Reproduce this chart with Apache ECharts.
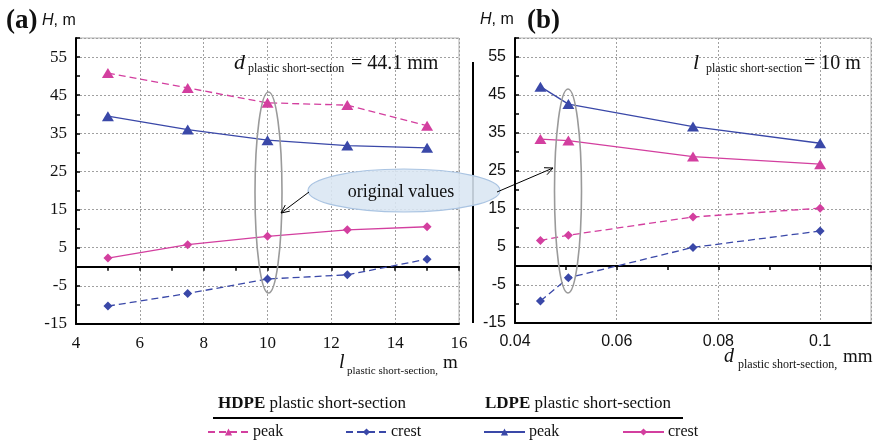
<!DOCTYPE html>
<html>
<head>
<meta charset="utf-8">
<script src="https://cdn.jsdelivr.net/npm/echarts@6/dist/echarts.min.js"></script>
<style>
  html, body { margin: 0; padding: 0; background: #fff; }
  #chart { width: 873px; height: 445px; }
</style>
</head>
<body>
<div id="chart"></div>
<script>
// (a) x: l plastic short-section, m
const lValues = [5, 7.5, 10, 12.5, 15];
const aHdpePeak = [50.8, 46.9, 43.0, 42.4, 37.0];
const aHdpeCrest = [-10.3, -7.0, -3.2, -2.1, 2.0];
const aLdpePeak = [39.5, 36.0, 33.2, 31.8, 31.2];
const aLdpeCrest = [2.3, 5.8, 8.0, 9.7, 10.5];

// (b) x: d plastic short-section
const dValues = [0.045, 0.0505, 0.075, 0.1];
const bBluePeak = [47.2, 42.6, 36.7, 32.3];
const bPinkPeak = [33.4, 33.0, 28.8, 26.8];
const bPinkCrest = [6.7, 8.1, 12.9, 15.2];
const bBlueCrest = [-9.2, -3.1, 4.9, 9.2];

const PINK = '#d33f9f';
const BLUE = '#3a48a8';
const SERIF = '"Liberation Serif", "Times New Roman", serif';
const SANS = '"Liberation Sans", Arial, sans-serif';

const chart = echarts.init(document.getElementById('chart'));

function pairs(xs, ys) {
  return xs.map((x, i) => [x, ys[i]]);
}

// line series helper
function mkSeries(name, xi, yi, xs, ys, color, dashed, symbol) {
  return {
    name: name,
    type: 'line',
    xAxisIndex: xi,
    yAxisIndex: yi,
    data: pairs(xs, ys),
    symbol: symbol,
    symbolSize: symbol === 'triangle' ? [12, 10] : 9,
    itemStyle: { color: color },
    lineStyle: { color: color, width: 1.3, type: dashed ? [7, 4] : 'solid' },
    animation: false,
    z: 5
  };
}

// value y axis with labels + grid lines
function yLabelAxis(gi, font, size) {
  return {
    type: 'value', gridIndex: gi, min: -15, max: 60, interval: 10,
    axisLine: { show: false }, axisTick: { show: false },
    axisLabel: { showMaxLabel: false, fontFamily: font, fontSize: size, color: '#111', margin: 9 },
    splitLine: { show: true, lineStyle: { color: '#a0a0a0', type: [2, 2], width: 1 } }
  };
}
// y axis with black line and ticks every 5
function yTickAxis(gi) {
  return {
    type: 'value', gridIndex: gi, min: -15, max: 60, interval: 5, position: 'left',
    axisLine: { show: true, onZero: false, lineStyle: { color: '#000', width: 2 } },
    axisTick: { show: true, inside: true, length: 4, lineStyle: { color: '#000', width: 1.5 } },
    axisLabel: { show: false },
    splitLine: { show: false }
  };
}

// open arrow: line + head
function arrow(x1, y1, x2, y2) {
  const dx = x2 - x1, dy = y2 - y1;
  const len = Math.sqrt(dx * dx + dy * dy);
  const bx = -dx / len, by = -dy / len;
  const a = 25 * Math.PI / 180, h = 9;
  const p1 = [x2 + h * (bx * Math.cos(a) - by * Math.sin(a)), y2 + h * (bx * Math.sin(a) + by * Math.cos(a))];
  const p2 = [x2 + h * (bx * Math.cos(a) + by * Math.sin(a)), y2 + h * (-bx * Math.sin(a) + by * Math.cos(a))];
  return [
    { type: 'line', shape: { x1: x1, y1: y1, x2: x2, y2: y2 }, style: { stroke: '#000', lineWidth: 1 }, z: 30 },
    { type: 'polyline', shape: { points: [p1, [x2, y2], p2] }, style: { stroke: '#000', lineWidth: 1, fill: null }, z: 30 }
  ];
}

function txt(x, y, text, font, size, opts) {
  return {
    type: 'text', x: x, y: y, z: 40,
    style: Object.assign({ text: text, fontFamily: font, fontSize: size, fill: '#111', textVerticalAlign: 'bottom' }, opts || {})
  };
}

function legendItem(name, left) {
  return {
    data: [name], left: left, top: 424, padding: 0,
    itemWidth: 41, itemHeight: 9, itemGap: 0,
    formatter: (n) => n.split(' ')[1],
    textStyle: { fontFamily: SERIF, fontSize: 16, color: '#111', padding: [0, 0, 0, -1] },
    selectedMode: false
  };
}

const option = {
  backgroundColor: '#fff',
  animation: false,
  grid: [
    { left: 76, right: 414, top: 38, bottom: 121, show: true, borderColor: '#b0b0b0', borderWidth: 1, backgroundColor: 'transparent' },
    { left: 515, right: 2, top: 38, bottom: 122, show: true, borderColor: '#b0b0b0', borderWidth: 1, backgroundColor: 'transparent' }
  ],
  xAxis: [
    // (a) bottom axis with labels
    { type: 'value', gridIndex: 0, min: 4, max: 16, interval: 2,
      axisLine: { onZero: false, lineStyle: { color: '#000', width: 2 } },
      axisTick: { show: false },
      axisLabel: { fontFamily: SERIF, fontSize: 17, color: '#111', margin: 11 },
      splitLine: { show: true, lineStyle: { color: '#a0a0a0', type: [2, 2], width: 1 } } },
    // (a) zero line with ticks
    { type: 'value', gridIndex: 0, min: 4, max: 16, interval: 1, position: 'bottom',
      axisLine: { onZero: true, onZeroAxisIndex: 0, lineStyle: { color: '#000', width: 2 } },
      axisTick: { show: true, length: 4, lineStyle: { color: '#000', width: 1.5 } },
      axisLabel: { show: false }, splitLine: { show: false } },
    // (b) bottom axis with labels
    { type: 'value', gridIndex: 1, min: 0.04, max: 0.11, interval: 0.02,
      axisLine: { onZero: false, lineStyle: { color: '#000', width: 2 } },
      axisTick: { show: false },
      axisLabel: { showMaxLabel: false, fontFamily: SANS, fontSize: 16, color: '#111', margin: 11,
        formatter: (v) => String(Math.round(v * 100) / 100) },
      splitLine: { show: true, lineStyle: { color: '#a0a0a0', type: [2, 2], width: 1 } } },
    // (b) zero line with ticks
    { type: 'value', gridIndex: 1, min: 0.04, max: 0.11, interval: 0.01, position: 'bottom',
      axisLine: { onZero: true, onZeroAxisIndex: 2, lineStyle: { color: '#000', width: 2 } },
      axisTick: { show: true, length: 4, lineStyle: { color: '#000', width: 1.5 } },
      axisLabel: { show: false }, splitLine: { show: false } }
  ],
  yAxis: [
    yLabelAxis(0, SERIF, 17),
    yTickAxis(0),
    yLabelAxis(1, SANS, 16),
    yTickAxis(1)
  ],
  legend: [
    legendItem('HDPE peak', 207),
    legendItem('HDPE crest', 345),
    legendItem('LDPE peak', 483),
    legendItem('LDPE crest', 622)
  ],
  series: [
    mkSeries('HDPE peak', 0, 0, lValues, aHdpePeak, PINK, true, 'triangle'),
    mkSeries('HDPE crest', 0, 0, lValues, aHdpeCrest, BLUE, true, 'diamond'),
    mkSeries('LDPE peak', 0, 0, lValues, aLdpePeak, BLUE, false, 'triangle'),
    mkSeries('LDPE crest', 0, 0, lValues, aLdpeCrest, PINK, false, 'diamond'),
    mkSeries('b blue peak', 2, 2, dValues, bBluePeak, BLUE, false, 'triangle'),
    mkSeries('b pink peak', 2, 2, dValues, bPinkPeak, PINK, false, 'triangle'),
    mkSeries('b pink crest', 2, 2, dValues, bPinkCrest, PINK, true, 'diamond'),
    mkSeries('b blue crest', 2, 2, dValues, bBlueCrest, BLUE, true, 'diamond')
  ],
  graphic: [
    // panel labels
    txt(6, 35, '(a)', SERIF, 27, { fontWeight: 'bold' }),
    txt(527, 35, '(b)', SERIF, 27, { fontWeight: 'bold' }),
    txt(42, 29, '{i|H}, m', SANS, 16, { rich: { i: { fontStyle: 'italic', fontFamily: SANS, fontSize: 16 } } }),
    txt(480, 28, '{i|H}, m', SANS, 16, { rich: { i: { fontStyle: 'italic', fontFamily: SANS, fontSize: 16 } } }),
    // (a) annotation
    txt(234, 74, 'd', SERIF, 22, { fontStyle: 'italic' }),
    txt(248, 75, 'plastic short-section', SERIF, 12),
    txt(351, 74, '= 44.1 mm', SERIF, 20),
    // (b) annotation
    txt(693, 74, 'l', SERIF, 22, { fontStyle: 'italic' }),
    txt(706, 75, 'plastic short-section', SERIF, 12),
    txt(804, 74, '= 10 m', SERIF, 20),
    // axis names
    txt(339, 373, 'l', SERIF, 20, { fontStyle: 'italic' }),
    txt(347, 377, 'plastic short-section,', SERIF, 11),
    txt(443, 373, 'm', SERIF, 19),
    txt(724, 367, 'd', SERIF, 20, { fontStyle: 'italic' }),
    txt(738, 371, 'plastic short-section,', SERIF, 12),
    txt(843, 367, 'mm', SERIF, 19),
    // extra vertical line left of (b)
    { type: 'line', shape: { x1: 473, y1: 62, x2: 473, y2: 323 }, style: { stroke: '#000', lineWidth: 2 }, z: 10 },
    // gray ellipses marking original values
    { type: 'ellipse', shape: { cx: 268.5, cy: 192.5, rx: 13.5, ry: 100.5 }, style: { stroke: '#9a9a9a', lineWidth: 1.6, fill: null }, z: 20 },
    { type: 'ellipse', shape: { cx: 568, cy: 191, rx: 13.5, ry: 102 }, style: { stroke: '#9a9a9a', lineWidth: 1.6, fill: null }, z: 20 },
    // callout
    { type: 'ellipse', shape: { cx: 404, cy: 190.5, rx: 96, ry: 21.5 }, style: { stroke: '#aac4e2', lineWidth: 1.2, fill: 'rgba(218,230,243,0.88)' }, z: 25 },
    txt(401, 201, 'original values', SERIF, 18, { textAlign: 'center' }),
    ...arrow(309, 192, 281, 213),
    ...arrow(497, 192, 553, 168),
    // legend headers
    { type: 'text', x: 218, y: 412, z: 40, style: { text: '{b|HDPE} plastic short-section', fontFamily: SERIF, fontSize: 17, fill: '#111', textVerticalAlign: 'bottom',
      rich: { b: { fontWeight: 'bold', fontFamily: SERIF, fontSize: 17 } } } },
    { type: 'text', x: 485, y: 412, z: 40, style: { text: '{b|LDPE} plastic short-section', fontFamily: SERIF, fontSize: 17, fill: '#111', textVerticalAlign: 'bottom',
      rich: { b: { fontWeight: 'bold', fontFamily: SERIF, fontSize: 17 } } } },
    { type: 'line', shape: { x1: 213, y1: 418, x2: 683, y2: 418 }, style: { stroke: '#000', lineWidth: 2 }, z: 10 }
  ]
};

chart.setOption(option);
</script>
</body>
</html>
